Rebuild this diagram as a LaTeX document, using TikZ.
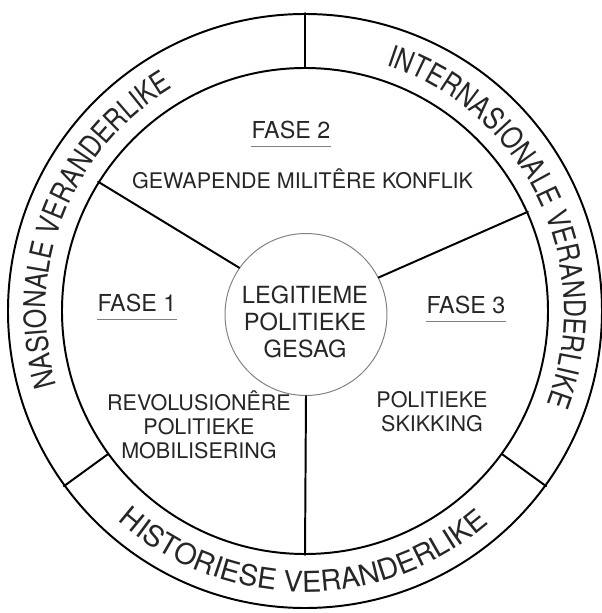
\documentclass[tikz,border=0pt]{standalone}
\usepackage{fontspec}
\setmainfont{TeX Gyre Heros}
\newfontfamily\ringfont[FakeStretch=0.83]{TeX Gyre Heros}
\newcommand\ringtop{\ringfont\fontsize{21.5}{24}\selectfont}
\newcommand\ringbot{\fontsize{20.5}{24}\selectfont}
\usetikzlibrary{decorations.text}

\begin{document}
\begin{tikzpicture}[line join=round, line cap=round,
		ring/.style={circle, draw, line width=1.4pt, inner sep=0pt},
		core/.style={circle, draw=black!50, line width=0.7pt, inner sep=0pt, minimum size=4.05cm},
		lbl/.style={font=\fontsize{15.3}{17}\selectfont, text=black!85, inner sep=0pt},
		fase/.style={font=\fontsize{16.6}{19}\selectfont, text=black!85, inner sep=0pt, anchor=base},
		uline/.style={draw=black!50, line width=0.8pt},
		sep/.style={line width=1.4pt}]
			\def\rt{6.475} \def\rb{7.025} % grondlyn van die ringtekste (bo, onder)
			\useasboundingbox (-7.625,-7.55) rectangle (7.4,7.775);
			\node[ring, minimum size=14.85cm] (rim) at (0,0) {};
			\node[ring, minimum size=12.15cm] (disc) at (0,0) {};
			\node[core] (core) at (0.025,-0.0875) {};
			\node[lbl, font=\fontsize{16.8}{19.2}\selectfont, align=center] (gesag) at (0,-0.26) {LEGITIEME\\POLITIEKE\\GESAG};
			% skeidings in die ring en speke
			\foreach \a in {90,216,324} \draw[sep] (disc.\a) -- (rim.\a);
			\draw[sep] (core.145) -- (disc.148);
			\draw[sep] (core.27) -- (disc.24);
			\draw[sep] (core.270) -- (disc.270);
			% fases
			\node[fase] (f2) at (-0.35,4.31) {FASE 2};
			\node[fase] (f1) at (-4.2,-0.005) {FASE 1};
			\node[fase] (f3) at (4.025,-0.07) {FASE 3};
			\foreach \f in {f1,f2,f3} \draw[uline] ([yshift=-0.2cm]\f.base west) -- ([yshift=-0.2cm]\f.base east);
			\node[lbl, anchor=base] (war) at (-0.06,3.05) {GEWAPENDE MILITÊRE KONFLIK};
			\node[lbl, align=center] (revo) at (-2.65,-2.84) {REVOLUSIONÊRE\\POLITIEKE\\MOBILISERING};
			\node[lbl, align=center] (skik) at (3.175,-2.52) {POLITIEKE\\SKIKKING};
			% ringtekste
			\path[decorate, decoration={text along path, text align=center, text color=black!85,
				text={|\ringtop|NASIONALE VERANDERLIKE}}] (218.7:\rt) arc[start angle=218.7, end angle=98.7, radius=\rt];
			\path[decorate, decoration={text along path, text align=center, text color=black!85,
				text={|\ringtop|INTERNASIONALE VERANDERLIKE}}] (85.3:\rt) arc[start angle=85.3, end angle=-34.7, radius=\rt];
			\path[decorate, decoration={text along path, text align=center, text color=black!85,
				text={|\ringbot|HISTORIESE VERANDERLIKE}}] (209.6:\rb) arc[start angle=209.6, end angle=329.6, radius=\rb];
	\end{tikzpicture}
\end{document}
